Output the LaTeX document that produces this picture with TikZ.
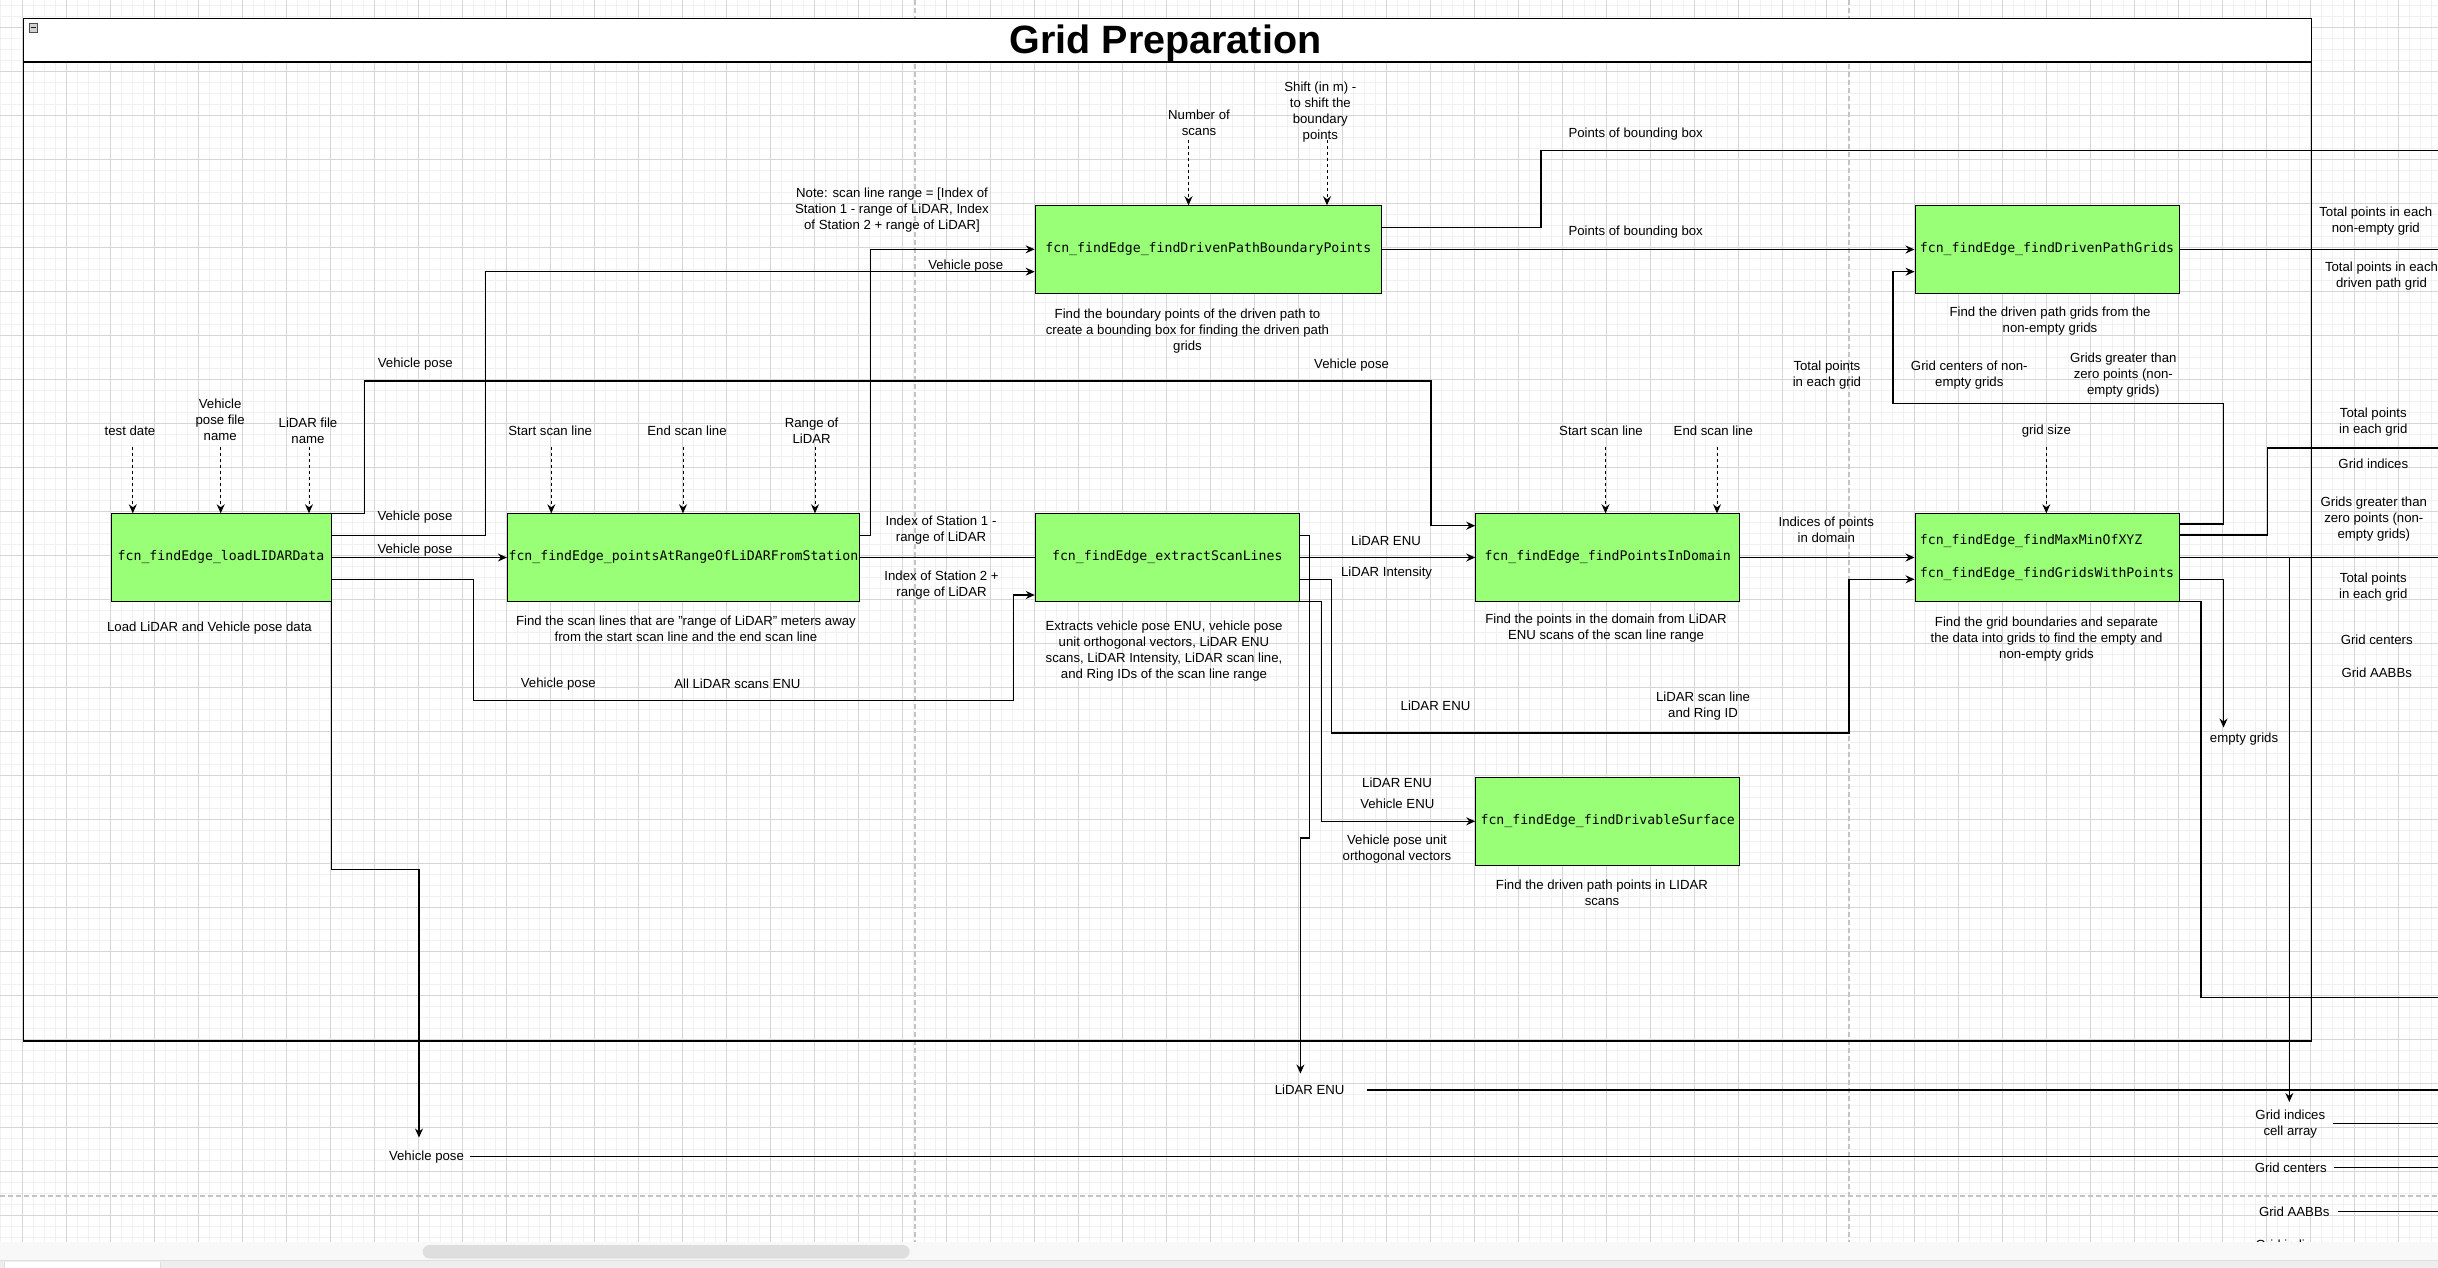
\documentclass[tikz,border=0pt]{standalone}
\usepackage{fontspec}
\setmainfont{Liberation Sans}
\newfontfamily\fcnfont{DejaVu Sans Mono}
\usetikzlibrary{arrows.meta}
\definecolor{fcngreen}{RGB}{153,255,119}
\definecolor{gridminor}{RGB}{241,241,241}
\definecolor{gridmajor}{RGB}{214,214,214}
\definecolor{breakgray}{RGB}{196,196,196}
\definecolor{barback}{RGB}{248,248,248}
\definecolor{barthumb}{RGB}{222,222,222}
\definecolor{tabback}{RGB}{238,238,238}
\begin{document}
\begin{tikzpicture}[x=1pt, y=-1pt,
    fcnbox/.style={draw=black, line width=1pt, fill=fcngreen, minimum height=87.5pt,
      inner sep=0pt, font=\fcnfont\fontsize{13.2}{16}\selectfont},
    lbl/.style={inner sep=0pt, align=center, font=\fontsize{13.2}{16}\selectfont},
    flow/.style={line width=1.1pt, -{Stealth[length=9pt,width=8pt,inset=3pt]}},
    wire/.style={line width=1.1pt},
    inarrow/.style={line width=1pt, dash pattern=on 3pt off 3pt,
      -{Stealth[length=9pt,width=8pt,inset=3pt]}},
    pagebreak/.style={breakgray, line width=1.3pt, dash pattern=on 5pt off 3pt}]
    \useasboundingbox (0,0) rectangle (2438,1268);
    \foreach \gx in {0.5,11.5,...,2438} \draw[gridminor, line width=0.8pt] (\gx,0) -- (\gx,1242);
    \foreach \gy in {5.5,16.5,...,1242} \draw[gridminor, line width=0.8pt] (0,\gy) -- (2438,\gy);
    \foreach \gx in {22.5,66.5,...,2438} \draw[gridmajor, line width=0.8pt] (\gx,0) -- (\gx,1242);
    \foreach \gy in {27.5,71.5,...,1242} \draw[gridmajor, line width=0.8pt] (0,\gy) -- (2438,\gy);
    \draw[pagebreak] (915,0) -- (915,1242);
    \draw[pagebreak] (1849,0) -- (1849,1242);
    \draw[pagebreak] (0,1196) -- (2438,1196);

    \draw[line width=1.3pt] (23.5,18.5) rectangle (2311.3,1041);
    \draw[line width=1.3pt, fill=white] (23.5,18.5) rectangle (2311.3,62);
    \draw[fill=gray!35, draw=gray!60!black, line width=0.6pt] (29,23.5) rectangle (37.5,32.5);
    \draw[gray!20!black, line width=1pt] (30.5,28) -- (36,28);
    \node[font=\bfseries\fontsize{39.5}{44}\selectfont, anchor=base, inner sep=0pt] (title) at (1165.5,53.3) {Grid Preparation};

    \node[fcnbox, minimum width=220pt] (load) at (221,557.5) {fcn\_findEdge\_loadLIDARData};
    \node[fcnbox, minimum width=352pt] (range) at (683.4,557.5) {fcn\_findEdge\_pointsAtRangeOfLiDARFromStation};
    \node[fcnbox, minimum width=264pt] (extract) at (1167.3,557.5) {fcn\_findEdge\_extractScanLines};
    \node[fcnbox, minimum width=264pt] (domain) at (1607.7,557.5) {fcn\_findEdge\_findPointsInDomain};
    \node[fcnbox, minimum width=264pt, align=left] (gridpts) at (2047,557.5)
      {fcn\_findEdge\_findMaxMinOfXYZ\\[16.5pt]fcn\_findEdge\_findGridsWithPoints};
    \node[fcnbox, minimum width=346.3pt] (bound) at (1208.3,249.5) {fcn\_findEdge\_findDrivenPathBoundaryPoints};
    \node[fcnbox, minimum width=264pt] (driven) at (2047,249.5) {fcn\_findEdge\_findDrivenPathGrids};
    \node[fcnbox, minimum width=264pt] (surface) at (1607.7,821.3) {fcn\_findEdge\_findDrivableSurface};

    \node[lbl] (tdate) at (130,430.7) {test date};
    \node[lbl] (vpfile) at (220.2,419.5) {Vehicle\\pose file\\name};
    \node[lbl] (lfile) at (308,430.5) {LiDAR file\\name};
    \node[lbl] (sscana) at (550.2,430.7) {Start scan line};
    \node[lbl] (escana) at (687,430.7) {End scan line};
    \node[lbl] (lrange) at (811.6,430.5) {Range of\\LiDAR};
    \node[lbl] (sscanb) at (1601,430.7) {Start scan line};
    \node[lbl] (escanb) at (1713.3,430.7) {End scan line};
    \node[lbl] (gsize) at (2046.3,430.7) {grid size};
    \node[lbl] (nscans) at (1199,122.5) {Number of\\scans};
    \node[lbl] (shift) at (1320.3,111.7) {Shift (in m) -\\to shift the\\boundary\\points};
    \foreach \x/\b in {132.8/load, 220.7/load, 309/load, 551.3/range, 683/range, 815/range,
      1605.5/domain, 1717/domain, 2046.3/gridpts}
      \draw[inarrow] (\x,446.7) -- (\x,0 |- \b.north);
    \foreach \x in {1188.5,1327}
      \draw[inarrow] (\x,140) -- (\x,0 |- bound.north);

    \node[lbl] (dload) at (209.5,628.3) {Load LiDAR and Vehicle pose data};
    \node[lbl] (drange) at (686,629) {Find the scan lines that are "range of LiDAR" meters away\\from the start scan line and the end scan line};
    \node[lbl] (dextract) at (1164,650.7) {Extracts vehicle pose ENU, vehicle pose\\unit orthogonal vectors, LiDAR ENU\\scans, LiDAR Intensity, LiDAR scan line,\\and Ring IDs of the scan line range};
    \node[lbl] (ddomain) at (1606,628.5) {Find the points in the domain from LiDAR\\ENU scans of the scan line range};
    \node[lbl] (dgrids) at (2046.5,639.5) {Find the grid boundaries and separate\\the data into grids to find the empty and\\non-empty grids};
    \node[lbl] (dbound) at (1187.5,331.3) {Find the boundary points of the driven path to\\create a bounding box for finding the driven path\\grids};
    \node[lbl] (ddriven) at (2050,320.7) {Find the driven path grids from the\\non-empty grids};
    \node[lbl] (dsurface) at (1602,892.5) {Find the driven path points in LIDAR\\scans};
    \node[lbl] (note) at (892,210) {Note: scan line range = [Index of\\Station 1 - range of LiDAR, Index\\of Station 2 + range of LiDAR]};

    \coordinate (vpin) at (419,1137.5);
    \coordinate (lenuin) at (1300.4,1073.5);
    \coordinate (gcellin) at (2289.3,1102);
    \coordinate (gcellsplit) at (2289.3,557.5);
    \coordinate (emptyin) at (2223.5,727.5);
    \coordinate (bboxend) at (2438,150.5);
    \coordinate (drivenend) at (2438,249.5);
    \coordinate (gidxend) at (2438,448);
    \coordinate (nonemptyend) at (2438,557.5);
    \coordinate (aabbend) at (2438,997.5);

    \draw[flow] (load.north east) -| (364.5,381) -| (1431,525.7) -- (domain.west |- 0,525.7);
    \draw[flow] (load.east |- 0,535.7) -| (485.4,271.7) -- (bound.west |- 0,271.7);
    \draw[flow] (load) -- (range);
    \draw[flow] (load.east |- 0,579.7) -| (473.9,700.3) -| (1013.3,595) -- (extract.west |- 0,595);
    \draw[flow] (load.south east) |- (419,869.7) -- (vpin);
    \draw[flow] (range.east |- 0,535.7) -| (870.5,249.3) -- (bound.west |- 0,249.3);
    \draw[wire] (range) -- (extract);
    \draw[flow] (extract.east |- 0,535.7) -| (1309.4,838) -| (lenuin);
    \draw[flow] (extract) -- (domain);
    \draw[flow] (extract.east |- 0,579.3) -| (1331.7,733) -| (1849,579.3) -- (gridpts.west |- 0,579.3);
    \draw[flow] (extract.south east) -| (1321.4,821.3) -- (surface.west);
    \draw[flow] (domain) -- (gridpts);
    \draw[wire] (bound.east |- 0,227.7) -| (1541,150.5) -- (bboxend);
    \draw[flow] (bound) -- (driven);
    \draw[wire] (driven) -- (drivenend);
    \draw[flow] (gridpts.east |- 0,524) -| (2223.3,403.5) -| (1893,271.7) -- (driven.west |- 0,271.7);
    \draw[wire] (gridpts.east |- 0,535) -| (2267.3,448) -- (gidxend);
    \draw[wire] (gridpts) -- (nonemptyend);
    \draw[flow] (gcellsplit) -- (gcellin);
    \draw[flow] (gridpts.east |- 0,579.4) -| (emptyin);
    \draw[wire] (gridpts.south east) -| (2201,997.5) -- (aabbend);

    \node[lbl] (vpa) at (415.3,364.3) {Vehicle pose};
    \node[lbl] (vpb) at (1351.6,364.7) {Vehicle pose};
    \node[lbl] (vpc) at (415,516.7) {Vehicle pose};
    \node[lbl] (vpd) at (415,549.7) {Vehicle pose};
    \node[lbl] (vpe) at (965.7,265.7) {Vehicle pose};
    \node[lbl] (vpf) at (558.3,683.7) {Vehicle pose};
    \node[lbl] (allenu) at (737.4,683.7) {All LiDAR scans ENU};
    \node[lbl] (idxa) at (941,529.7) {Index of Station 1 -\\range of LiDAR};
    \node[lbl] (idxb) at (941.5,584.7) {Index of Station 2 +\\range of LiDAR};
    \node[lbl] (enua) at (1386,540.3) {LiDAR ENU};
    \node[lbl] (intens) at (1386.6,573.3) {LiDAR Intensity};
    \node[lbl] (enub) at (1435.5,705.3) {LiDAR ENU};
    \node[lbl] (ringid) at (1703,705.7) {LiDAR scan line\\and Ring ID};
    \node[lbl] (enuc) at (1397,782.3) {LiDAR ENU};
    \node[lbl] (vehenu) at (1397.3,804) {Vehicle ENU};
    \node[lbl] (orthvec) at (1397,848.7) {Vehicle pose unit\\orthogonal vectors};
    \node[lbl] (indom) at (1826.3,529.7) {Indices of points\\in domain};
    \node[lbl] (bboxa) at (1635.7,133.7) {Points of bounding box};
    \node[lbl] (bboxb) at (1635.7,232.3) {Points of bounding box};
    \node[lbl] (totala) at (1826.9,375.5) {Total points\\in each grid};
    \node[lbl] (centa) at (1969.3,375.5) {Grid centers of non-\\empty grids};
    \node[lbl] (greata) at (2123.3,375.3) {Grids greater than\\zero points (non-\\empty grids)};
    \node[lbl] (totnon) at (2375.8,221.5) {Total points in each\\non-empty grid};
    \node[lbl] (totdrv) at (2381.5,276.5) {Total points in each\\driven path grid};
    \node[lbl] (totalb) at (2373.3,422.3) {Total points\\in each grid};
    \node[lbl] (gidx) at (2373.3,463.6) {Grid indices};
    \node[lbl] (greatb) at (2373.8,518.7) {Grids greater than\\zero points (non-\\empty grids)};
    \node[lbl] (totalc) at (2373.3,587.5) {Total points\\in each grid};
    \node[lbl] (centb) at (2376.7,639.6) {Grid centers};
    \node[lbl] (aabba) at (2376.7,672.9) {Grid AABBs};
    \node[lbl] (empty) at (2244,738.6) {empty grids};

    \node[lbl] (vpout) at (426.5,1156.7) {Vehicle pose};
    \node[lbl] (lenuout) at (1309.6,1090) {LiDAR ENU};
    \node[lbl] (gcellout) at (2290.3,1123.6) {Grid indices\\cell array};
    \node[lbl] (centout) at (2290.7,1167.6) {Grid centers};
    \node[lbl] (aabbout) at (2294.2,1211.4) {Grid AABBs};
    \node[lbl] (gidxout) at (2290.5,1245) {Grid indices};
    \draw[wire] ([xshift=6pt]vpout.east) -- (vpout.east -| 2438,0);
    \draw[wire] ([xshift=22pt]lenuout.east) -- (lenuout.east -| 2438,0);
    \draw[wire] ([xshift=7.5pt]gcellout.east) -- (gcellout.east -| 2438,0);
    \draw[wire] ([xshift=7pt]centout.east) -- (centout.east -| 2438,0);
    \draw[wire] ([xshift=8pt]aabbout.east) -- (aabbout.east -| 2438,0);

    \fill[barback] (0,1242) rectangle (2438,1260);
    \fill[barthumb, rounded corners=7pt] (422.6,1245) rectangle (909.7,1258.5);
    \fill[tabback] (0,1260) rectangle (2438,1268);
    \draw[barthumb, line width=1.5pt] (0,1260.5) -- (2438,1260.5);
    \fill[white] (4,1262) rectangle (160.6,1268);
    \draw[barthumb, line width=1pt] (4,1262) -- (4,1268) (160.6,1262) -- (160.6,1268);
\end{tikzpicture}
\end{document}
